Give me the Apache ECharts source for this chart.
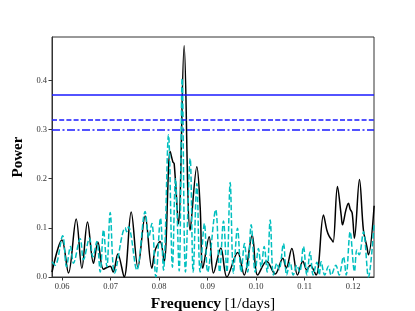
<!DOCTYPE html>
<html>
<head>
<meta charset="utf-8">
<script src="https://cdn.jsdelivr.net/npm/echarts@6/dist/echarts.min.js"></script>
<style>html,body{margin:0;padding:0;background:#fff}#c{width:415px;height:311px}</style>
</head>
<body>
<div id="c"></div>
<script>
// Frequencies [1/days] and power values for the solid black periodogram
const blackFreq = [0.0579,0.05994,0.0613,0.06289,0.06406,0.06522,0.06645,0.06736,0.06852,0.0699,0.07052,0.07148,0.07278,0.07423,0.07561,0.07711,0.07849,0.07918,0.0802,0.08103,0.08227,0.08283,0.0831,0.08398,0.08515,0.08639,0.08777,0.08845,0.08901,0.09031,0.0912,0.09272,0.09396,0.09619,0.09753,0.09918,0.10031,0.10216,0.10392,0.1055,0.10619,0.10736,0.10852,0.10963,0.11045,0.11113,0.11237,0.11388,0.11458,0.11505,0.11561,0.11588,0.11676,0.11753,0.1178,0.1185,0.11903,0.11938,0.1198,0.12027,0.1213,0.12212,0.12282,0.12315,0.12433];
const blackPower = [0.01,0.075,0.008,0.118,0.018,0.112,0.028,0.071,0.016,0.022,0.01,0.047,0.0,0.132,0.02,0.124,0.018,0.055,0.072,0.031,0.255,0.234,0.23,0.108,0.47,0.095,0.224,0.143,0.018,0.082,0.008,0.059,0.0,0.05,0.004,0.085,0.004,0.032,0.006,0.038,0.018,0.058,0.004,0.032,0.014,0.024,0.004,0.126,0.095,0.083,0.075,0.071,0.184,0.126,0.106,0.136,0.15,0.138,0.13,0.079,0.198,0.095,0.062,0.045,0.145];
// Frequencies and power values for the dashed cyan periodogram
const cyanFreq = [0.0579,0.05856,0.0601,0.06089,0.06171,0.06233,0.06371,0.06439,0.06563,0.06633,0.06715,0.06784,0.06852,0.06922,0.0699,0.07082,0.07299,0.0733,0.07367,0.0754,0.07711,0.07784,0.07849,0.07932,0.08027,0.08089,0.08192,0.08274,0.08336,0.08412,0.08474,0.08542,0.08639,0.08701,0.08777,0.08845,0.08934,0.09,0.09165,0.09247,0.09326,0.09396,0.09464,0.09532,0.09615,0.09691,0.09759,0.09825,0.09897,0.0998,0.10047,0.10103,0.10165,0.10227,0.10289,0.10357,0.10427,0.10474,0.10563,0.10629,0.10701,0.10763,0.10839,0.10897,0.10975,0.11045,0.11113,0.11175,0.11252,0.113,0.1134,0.11412,0.11491,0.11546,0.11643,0.11711,0.118,0.11856,0.11938,0.12027,0.12076,0.12124,0.12212,0.12315,0.12433];
const cyanPower = [0.031,0.024,0.084,0.021,0.062,0.028,0.078,0.035,0.079,0.041,0.072,0.01,0.096,0.021,0.131,0.008,0.1,0.092,0.102,0.014,0.133,0.08,0.109,0.0,0.12,0.014,0.289,0.02,0.2,0.012,0.404,0.01,0.241,0.01,0.19,0.01,0.109,0.01,0.137,0.01,0.114,0.01,0.192,0.008,0.099,0.01,0.068,0.01,0.106,0.01,0.058,0.02,0.062,0.01,0.116,0.004,0.028,0.015,0.068,0.004,0.03,0.004,0.024,0.01,0.062,0.004,0.051,0.004,0.03,0.004,0.031,0.004,0.022,0.004,0.024,0.004,0.041,0.004,0.092,0.011,0.055,0.045,0.092,0.0,0.11];
// Significance thresholds (solid, dashed, dash-dot)
const thresholds = [0.37, 0.323, 0.302];
// Tick labels
const xTicks = [0.06,0.07,0.08,0.09,0.10,0.11,0.12];
const yTicks = [0.0,0.1,0.2,0.3,0.4];

const zip = (a,b)=>a.map((v,i)=>[v,b[i]]);
const serif = '"Liberation Serif","DejaVu Serif",serif';
const thrStyles = ['solid', [5,2.2], [8,2.5,2,2.5]];

const chart = echarts.init(document.getElementById('c'), null, {renderer:'canvas'});
chart.setOption({
  animation:false,
  backgroundColor:'#fff',
  grid:{left:52,right:41,top:37,bottom:34,show:true,borderColor:'#333',borderWidth:1,backgroundColor:'transparent',
        containLabel:false,outerBoundsMode:'none'},
  xAxis:{
    type:'value',min:0.0579,max:0.1243,
    name:'{b|Frequency} {r|[1/days]}',nameLocation:'middle',nameGap:17,
    nameTextStyle:{rich:{b:{fontFamily:serif,fontWeight:'bold',fontSize:15.5,color:'#000'},r:{fontFamily:serif,fontSize:15.5,color:'#000'}}},
    axisLine:{lineStyle:{color:'#333',width:1}},
    axisTick:{customValues:xTicks,length:3.5,lineStyle:{color:'#333'}},
    axisLabel:{customValues:xTicks,formatter:v=>v.toFixed(2),fontFamily:serif,fontSize:8.5,color:'#333',margin:5},
    splitLine:{show:false}
  },
  yAxis:{
    type:'value',min:0,max:0.488,
    name:'Power',nameLocation:'middle',nameGap:17,
    nameTextStyle:{fontFamily:serif,fontWeight:'bold',fontSize:15,color:'#000'},
    axisLine:{show:true,lineStyle:{color:'#333',width:1}},
    axisTick:{show:true,customValues:yTicks,length:3.5,lineStyle:{color:'#333'}},
    axisLabel:{customValues:yTicks,formatter:v=>v.toFixed(1),fontFamily:serif,fontSize:8.5,color:'#333',margin:5},
    splitLine:{show:false}
  },
  series:[
    {type:'line',data:zip(blackFreq,blackPower),showSymbol:false,smooth:0.35,
     lineStyle:{color:'#000',width:1.5},z:2},
    {type:'line',data:zip(cyanFreq,cyanPower),showSymbol:false,smooth:0.35,
     lineStyle:{color:'#00bfbf',width:1.5,type:[5.5,2.4]},z:3},
    {type:'line',data:[],z:4,
     markLine:{silent:true,symbol:['none','none'],label:{show:false},emphasis:{disabled:true},
       data:thresholds.map((t,i)=>({yAxis:t,lineStyle:{color:'#1a1aff',opacity:1,width:1.5,type:thrStyles[i]}}))}}
  ]
});
</script>
</body>
</html>
